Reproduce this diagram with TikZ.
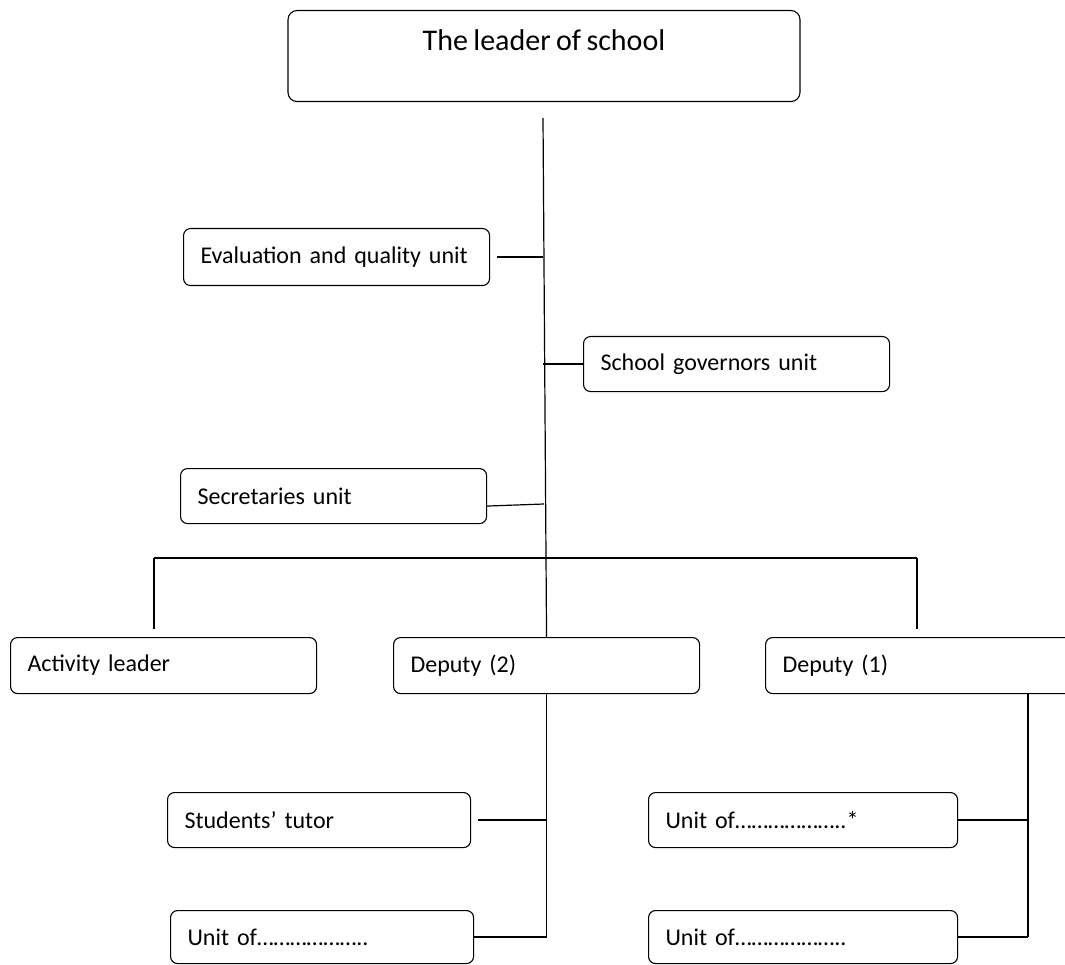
\documentclass[tikz,border=0pt]{standalone}
\usepackage{fontspec}
\setmainfont[WordSpace=0.8]{Carlito}
\begin{document}
\begin{tikzpicture}[x=1pt,y=-1pt,
  conn/.style={line width=1.2pt},
  unitbox/.style={draw, rounded corners=7pt, line width=1.1pt, minimum height=56pt,
    text width=272pt, inner xsep=17pt, align=left, anchor=north west,
    font=\fontsize{24}{28}\selectfont},
  titlebox/.style={draw, rounded corners=9pt, line width=1.1pt, anchor=north,
    minimum width=512pt, inner ysep=10pt, text height=30pt, text depth=41pt,
    font=\fontsize{30}{36}\selectfont}]
\useasboundingbox (0,0) rectangle (1065,965);
\clip (0,0) rectangle (1065,965);

% boxes
\node[titlebox] (lead) at (544,10) {The leader of school};
\node[unitbox, minimum height=57pt] (eval) at (183,228) {Evaluation and quality unit};
\node[unitbox, minimum height=55pt] (gov) at (583,336) {School governors unit};
\node[unitbox, minimum height=55pt] (sec) at (180,468) {Secretaries unit};
\node[unitbox] (act) at (10,637) {Activity leader};
\node[unitbox] (dep2) at (393,637) {Deputy (2)};
\node[unitbox, text width=280pt] (dep1) at (765,637) {Deputy (1)};
\node[unitbox, text width=269pt, minimum height=55pt] (tut) at (167,792) {Students’ tutor};
\node[unitbox, text width=269pt, minimum height=53pt] (ul) at (170,910) {Unit of\dots\dots\dots\dots\dots\dots..};
\node[unitbox, text width=275pt, minimum height=55pt] (us) at (648,792) {Unit of\dots\dots\dots\dots\dots\dots..*};
\node[unitbox, text width=275pt, minimum height=53pt] (ur) at (648,910) {Unit of\dots\dots\dots\dots\dots\dots..};

% coordinates
\coordinate (s0) at (543,118);
\coordinate (secj) at (544,504);
\coordinate (bl) at (154,558);
\coordinate (br) at (917,558);
\coordinate (bld) at (154,629);
\coordinate (brd) at (917,629);
\coordinate (d1t) at (1028,693);

% main spine
\draw[conn] (s0) -- (dep2.north);
\draw[conn] ([xshift=7pt]eval.east) -- (eval.east -| s0);
\draw[conn] (gov.west -| s0) -- (gov.west);
\draw[conn] ([yshift=-10pt]sec.east) -- (secj);
\draw[conn] (bl) -- (br);
\draw[conn] (bl) -- (bld);
\draw[conn] (br) -- (brd);

% deputy (2)
\draw[conn] (dep2.south) -- (ul.east -| dep2.south);
\draw[conn] ([xshift=7pt]tut.east) -- (tut.east -| dep2.south);
\draw[conn] (ul.east) -- (ul.east -| dep2.south);

% deputy (1)
\draw[conn] (d1t) -- (ur.east -| d1t);
\draw[conn] (us.east) -- (us.east -| d1t);
\draw[conn] (ur.east) -- (ur.east -| d1t);
\end{tikzpicture}
\end{document}
